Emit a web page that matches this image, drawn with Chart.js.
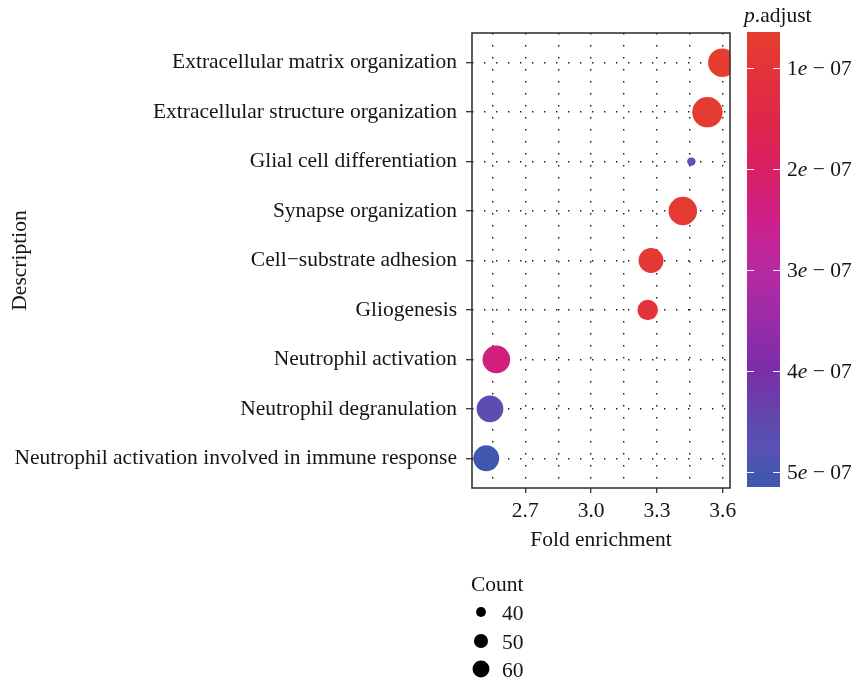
<!DOCTYPE html>
<html>
<head>
<meta charset="utf-8">
<script src="https://cdn.jsdelivr.net/npm/chart.js@4/dist/chart.umd.min.js"></script>
<style>
  html, body { margin: 0; padding: 0; background: #fff; }
  #wrap { width: 868px; height: 684px; }
</style>
</head>
<body>
<div id="wrap"><canvas id="c" width="868" height="684"></canvas></div>
<script>
// GO terms (top to bottom) and their enrichment statistics
const terms = [
  'Extracellular matrix organization',
  'Extracellular structure organization',
  'Glial cell differentiation',
  'Synapse organization',
  'Cell\u2212substrate adhesion',
  'Gliogenesis',
  'Neutrophil activation',
  'Neutrophil degranulation',
  'Neutrophil activation involved in immune response'
];
const foldEnrichment = [3.598, 3.530, 3.457, 3.418, 3.273, 3.258, 2.568, 2.539, 2.522];
const geneCount = [61, 66, 36, 61, 53, 45, 59, 57, 55];
const pAdjust = [0.64e-7, 0.75e-7, 4.75e-7, 0.80e-7, 0.85e-7, 1.0e-7, 2.35e-7, 4.6e-7, 5.15e-7];

// axis ticks
const xMajorTicks = [2.7, 3.0, 3.3, 3.6];
const xMinorTicks = [2.55, 2.85, 3.15, 3.45];
const xRange = [2.457, 3.633];

// legends
const pAdjustTicks = [1e-7, 2e-7, 3e-7, 4e-7, 5e-7];
const countLegendValues = [40, 50, 60];

// red -> blue colour ramp for p.adjust
const colorStopValues = [0.64e-7, 1.0e-7, 1.5e-7, 2.0e-7, 2.5e-7, 3.0e-7, 3.5e-7, 4.0e-7, 4.5e-7, 4.75e-7, 5.0e-7, 5.15e-7];
const colorStopHex = ['#E53E2E', '#E4333A', '#DF2749', '#D91F62', '#CE1F8A', '#B72AA1', '#9A2BAA', '#7A2EA9', '#6048AE', '#5A51B6', '#4756B0', '#3F57AE'];

const FONT = "'Liberation Serif', 'Times New Roman', serif";
const FS = 21.5;
const INK = '#151515';

function hexToRgb(h) {
  const n = parseInt(h.slice(1), 16);
  return [(n >> 16) & 255, (n >> 8) & 255, n & 255];
}
function pToColor(p) {
  const v = colorStopValues;
  if (p <= v[0]) return colorStopHex[0];
  if (p >= v[v.length - 1]) return colorStopHex[v.length - 1];
  let i = 0;
  while (p > v[i + 1]) i++;
  const t = (p - v[i]) / (v[i + 1] - v[i]);
  const a = hexToRgb(colorStopHex[i]), b = hexToRgb(colorStopHex[i + 1]);
  const c = a.map((x, k) => Math.round(x + (b[k] - x) * t));
  return `rgb(${c[0]},${c[1]},${c[2]})`;
}

// point size: radius grows with sqrt of the count over the data range
const countMin = Math.min(...geneCount), countMax = Math.max(...geneCount);
const radiusRange = [4.2, 15.2];
const legendKeyScale = 0.6;
function countToRadius(c) {
  const t = Math.max(0, (c - countMin) / (countMax - countMin));
  return radiusRange[0] + (radiusRange[1] - radiusRange[0]) * Math.sqrt(t);
}

const isMajor = v => xMajorTicks.some(m => Math.abs(m - v) < 1e-9);

// draws runs of [text, italic] pieces left to right
function drawRuns(ctx, runs, x, y, size) {
  let cx = x;
  for (const [txt, italic] of runs) {
    ctx.font = `${italic ? 'italic ' : ''}${size}px ${FONT}`;
    ctx.fillText(txt, cx, y);
    cx += ctx.measureText(txt).width;
  }
}

const decorations = {
  id: 'decorations',
  afterDatasetsDraw(chart) {
    const { ctx, chartArea: a } = chart;
    ctx.save();
    ctx.strokeStyle = '#2a2a2a';
    ctx.lineWidth = 1.5;
    ctx.strokeRect(a.left, a.top, a.right - a.left, a.bottom - a.top);
    ctx.restore();
  },
  afterDraw(chart) {
    const { ctx, chartArea: a } = chart;
    ctx.save();
    ctx.textBaseline = 'middle';
    ctx.textAlign = 'left';

    // colour bar
    const pMin = Math.min(...pAdjust), pMax = Math.max(...pAdjust);
    const bx0 = a.right + 17, bx1 = bx0 + 33;
    const by0 = a.top - 1, by1 = a.bottom - 1;
    const pToY = p => by0 + (p - pMin) / (pMax - pMin) * (by1 - by0);
    const grad = ctx.createLinearGradient(0, by0, 0, by1);
    colorStopValues.forEach((v, i) => {
      const f = Math.min(1, Math.max(0, (v - pMin) / (pMax - pMin)));
      grad.addColorStop(f, colorStopHex[i]);
    });
    ctx.fillStyle = grad;
    ctx.fillRect(bx0, by0, bx1 - bx0, by1 - by0);

    ctx.fillStyle = INK;
    drawRuns(ctx, [['p', true], ['.adjust', false]], bx0 - 3, 16, FS);

    ctx.strokeStyle = 'rgba(255,255,255,0.95)';
    ctx.lineWidth = 1.2;
    pAdjustTicks.forEach(p => {
      const y = Math.round(pToY(p)) + 0.5;
      ctx.beginPath();
      ctx.moveTo(bx0, y); ctx.lineTo(bx0 + 7, y);
      ctx.moveTo(bx1 - 7, y); ctx.lineTo(bx1, y);
      ctx.stroke();
      const [mant, ex] = p.toExponential().split('e');
      const expAbs = String(Math.abs(parseInt(ex, 10))).padStart(2, '0');
      const sign = parseInt(ex, 10) < 0 ? '\u2212' : '+';
      ctx.fillStyle = INK;
      drawRuns(ctx, [[mant, false], ['e', true], [` ${sign} ${expAbs}`, false]], bx1 + 7, y + 1, FS);
    });

    // count legend
    ctx.fillStyle = INK;
    drawRuns(ctx, [['Count', false]], a.left - 1, 585, FS);
    const keyY = [612, 641, 669];
    countLegendValues.forEach((c, i) => {
      ctx.fillStyle = '#000';
      ctx.beginPath();
      ctx.arc(a.left + 9, keyY[i], countToRadius(c) * legendKeyScale, 0, Math.PI * 2);
      ctx.fill();
      ctx.fillStyle = INK;
      drawRuns(ctx, [[String(c), false]], a.left + 30, keyY[i] + 2, FS);
    });
    ctx.restore();
  }
};

const points = terms.map((t, i) => ({ x: foldEnrichment[i], y: i, r: countToRadius(geneCount[i]) }));

new Chart(document.getElementById('c'), {
  type: 'bubble',
  data: {
    datasets: [{
      data: points,
      backgroundColor: pAdjust.map(pToColor),
      borderWidth: 0,
      hoverRadius: 0,
      clip: 0
    }]
  },
  options: {
    responsive: false,
    animation: false,
    devicePixelRatio: 1,
    events: [],
    layout: { padding: { top: 33, right: 138, left: 0, bottom: 0 } },
    plugins: { legend: { display: false }, tooltip: { enabled: false } },
    scales: {
      x: {
        type: 'linear',
        min: xRange[0],
        max: xRange[1],
        afterBuildTicks: s => {
          s.ticks = [...xMinorTicks, ...xMajorTicks].sort((p, q) => p - q).map(v => ({ value: v }));
        },
        afterFit: s => { s.height = 196; },
        ticks: {
          autoSkip: false,
          maxRotation: 0,
          padding: 5,
          color: INK,
          font: { family: FONT, size: FS },
          callback: v => (isMajor(v) ? v.toFixed(1) : '')
        },
        grid: {
          color: '#1e1e1e',
          lineWidth: 1.4,
          tickLength: 5,
          tickWidth: 1.3,
          tickColor: ctx => (ctx.tick && isMajor(ctx.tick.value) ? '#333' : 'rgba(0,0,0,0)')
        },
        border: { display: false, dash: [1.4, 10.6] },
        title: {
          display: true,
          text: 'Fold enrichment',
          color: INK,
          font: { family: FONT, size: FS },
          padding: { top: 0, bottom: 131 }
        }
      },
      y: {
        type: 'linear',
        reverse: true,
        min: -0.6,
        max: 8.6,
        afterBuildTicks: s => { s.ticks = terms.map((_, i) => ({ value: i })); },
        afterFit: s => { s.width = 472; },
        ticks: {
          autoSkip: false,
          padding: 9,
          color: INK,
          font: { family: FONT, size: FS },
          callback: v => terms[v]
        },
        grid: {
          color: '#1e1e1e',
          lineWidth: 1.4,
          tickLength: 6,
          tickWidth: 1.3,
          tickColor: '#333'
        },
        border: { display: false, dash: [1.4, 10.6] },
        title: {
          display: true,
          text: 'Description',
          color: INK,
          font: { family: FONT, size: FS },
          padding: { top: 7, bottom: 0 }
        }
      }
    }
  },
  plugins: [decorations]
});
</script>
</body>
</html>
